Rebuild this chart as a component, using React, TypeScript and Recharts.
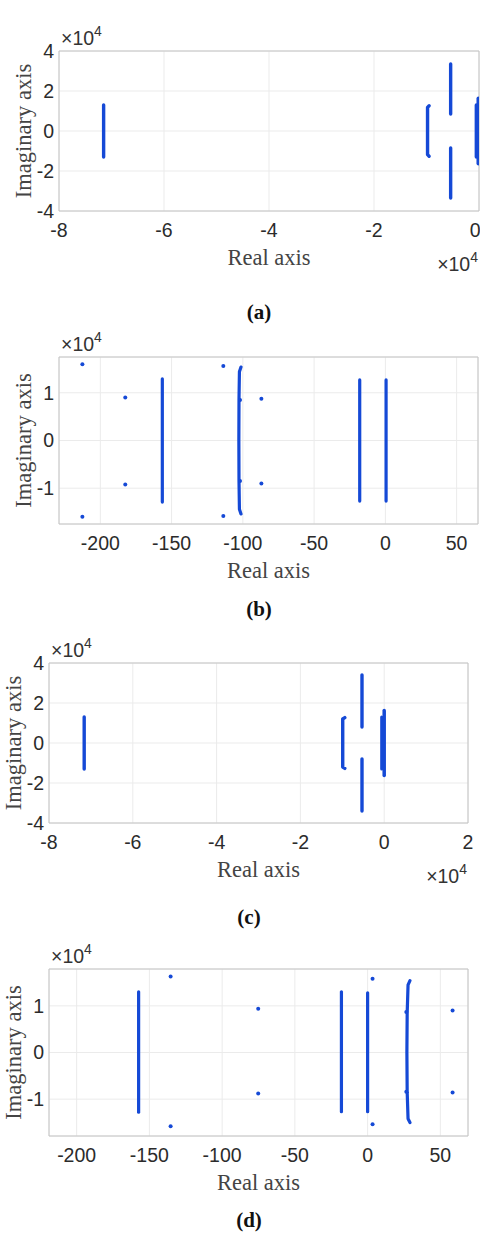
import { ScatterChart, Scatter, XAxis, YAxis, CartesianGrid, ReferenceArea } from 'recharts';

type Pt = { x: number; y: number };

// real / imaginary parts; (a),(c) x in 1e4, all y in 1e4
const aBranch1: Pt[] = [{ x: -7.15, y: 1.3 }, { x: -7.15, y: -1.3 }];
const aBranch2: Pt[] = [{ x: -0.95, y: 1.26 }, { x: -0.98, y: 1.18 }, { x: -0.98, y: -1.18 }, { x: -0.95, y: -1.26 }];
const aBranch3: Pt[] = [{ x: -0.54, y: 3.35 }, { x: -0.54, y: 0.85 }];
const aBranch4: Pt[] = [{ x: -0.54, y: -0.85 }, { x: -0.54, y: -3.35 }];
const aBranch5: Pt[] = [{ x: -0.05, y: 1.3 }, { x: -0.05, y: -1.3 }];
const aBranch6: Pt[] = [{ x: -0.01, y: 1.62 }, { x: -0.01, y: -1.62 }];

const bBranch1: Pt[] = [{ x: -156.5, y: 1.29 }, { x: -156.5, y: -1.29 }];
const bBranch2: Pt[] = [
  { x: -101.3, y: 1.54 }, { x: -102.4, y: 1.44 }, { x: -102.7, y: 0.85 }, { x: -102.8, y: 0 },
  { x: -102.7, y: -0.85 }, { x: -102.4, y: -1.44 }, { x: -101.3, y: -1.54 },
];
const bBranch3: Pt[] = [{ x: -18, y: 1.27 }, { x: -18, y: -1.27 }];
const bBranch4: Pt[] = [{ x: 0.5, y: 1.27 }, { x: 0.5, y: -1.27 }];
const bPoles: Pt[] = [
  { x: -212.6, y: 1.6 }, { x: -212.6, y: -1.6 }, { x: -182.5, y: 0.9 }, { x: -182.5, y: -0.92 },
  { x: -113.7, y: 1.56 }, { x: -113.7, y: -1.58 }, { x: -87, y: 0.875 }, { x: -87, y: -0.9 },
  { x: -102, y: 0.85 }, { x: -102, y: -0.85 },
];

const cBranch1: Pt[] = [{ x: -7.16, y: 1.3 }, { x: -7.16, y: -1.3 }];
const cBranch2: Pt[] = [{ x: -0.94, y: 1.27 }, { x: -0.99, y: 1.2 }, { x: -0.99, y: -1.2 }, { x: -0.94, y: -1.27 }];
const cBranch3: Pt[] = [{ x: -0.53, y: 3.4 }, { x: -0.53, y: 0.8 }];
const cBranch4: Pt[] = [{ x: -0.53, y: -0.8 }, { x: -0.53, y: -3.4 }];
const cBranch5: Pt[] = [{ x: -0.06, y: 1.3 }, { x: -0.06, y: -1.3 }];
const cBranch6: Pt[] = [{ x: 0.0, y: 1.62 }, { x: 0.0, y: -1.62 }];

const dBranch1: Pt[] = [{ x: -157.4, y: 1.3 }, { x: -157.4, y: -1.28 }];
const dBranch2: Pt[] = [{ x: -18, y: 1.3 }, { x: -18, y: -1.27 }];
const dBranch3: Pt[] = [{ x: 0, y: 1.28 }, { x: 0, y: -1.27 }];
const dBranch4: Pt[] = [
  { x: 29.1, y: 1.54 }, { x: 27.8, y: 1.45 }, { x: 27.2, y: 0.85 }, { x: 27.0, y: 0 },
  { x: 27.2, y: -0.85 }, { x: 27.8, y: -1.42 }, { x: 29.1, y: -1.5 },
];
const dPoles: Pt[] = [
  { x: -135.4, y: 1.63 }, { x: -135.4, y: -1.58 }, { x: -75.2, y: 0.94 }, { x: -75.2, y: -0.88 },
  { x: 3.4, y: 1.58 }, { x: 3.4, y: -1.54 }, { x: 58.4, y: 0.9 }, { x: 58.4, y: -0.86 },
  { x: 26.6, y: 0.87 }, { x: 26.6, y: -0.84 },
];

const aXTicks = [-8, -6, -4, -2, 0];
const aYTicks = [-4, -2, 0, 2, 4];
const bXTicks = [-200, -150, -100, -50, 0, 50];
const bYTicks = [-1, 0, 1];
const cXTicks = [-8, -6, -4, -2, 0, 2];
const cYTicks = [-4, -2, 0, 2, 4];
const dXTicks = [-200, -150, -100, -50, 0, 50];
const dYTicks = [-1, 0, 1];

const captions = ['(a)', '(b)', '(c)', '(d)'];

const BLUE = '#1549d6';
const SANS = '"Liberation Sans", Arial, sans-serif';
const SERIF = '"Liberation Serif", "Times New Roman", serif';

const noMarker = () => <g />;
const poleDot = (p: any) => <circle cx={p.cx} cy={p.cy} r={2} fill={BLUE} />;

interface PanelSpec {
  caption: string;
  branches: Pt[][];
  widths: number[];
  poles?: Pt[];
  xDomain: [number, number];
  yDomain: [number, number];
  xTicks: number[];
  yTicks: number[];
  chartTop: number;
  left: number;
  right: number;
  top: number;
  bottom: number;
  captionBase: number;
  xExp: boolean;
}

const panels: PanelSpec[] = [
  {
    caption: captions[0],
    branches: [aBranch1, aBranch2, aBranch3, aBranch4, aBranch5, aBranch6],
    widths: [3.4, 3.4, 3.4, 3.4, 3.5, 4],
    xDomain: [-8, 0], yDomain: [-4, 4], xTicks: aXTicks, yTicks: aYTicks,
    chartTop: 0, left: 59, right: 479, top: 51, bottom: 211, captionBase: 319, xExp: true,
  },
  {
    caption: captions[1],
    branches: [bBranch1, bBranch2, bBranch3, bBranch4],
    widths: [3.2, 3.2, 3.2, 3.2],
    poles: bPoles,
    xDomain: [-229, 65], yDomain: [-1.75, 1.75], xTicks: bXTicks, yTicks: bYTicks,
    chartTop: 300, left: 59, right: 478, top: 357, bottom: 524, captionBase: 616, xExp: false,
  },
  {
    caption: captions[2],
    branches: [cBranch1, cBranch2, cBranch3, cBranch4, cBranch5, cBranch6],
    widths: [3.4, 3.4, 3.4, 3.4, 3, 3.5],
    xDomain: [-8, 2], yDomain: [-4, 4], xTicks: cXTicks, yTicks: cYTicks,
    chartTop: 620, left: 49, right: 468, top: 663, bottom: 823, captionBase: 924, xExp: true,
  },
  {
    caption: captions[3],
    branches: [dBranch1, dBranch2, dBranch3, dBranch4],
    widths: [3.2, 3.2, 3.2, 3.2],
    poles: dPoles,
    xDomain: [-219, 69], yDomain: [-1.79, 1.79], xTicks: dXTicks, yTicks: dYTicks,
    chartTop: 920, left: 49, right: 468, top: 969, bottom: 1136, captionBase: 1227, xExp: false,
  },
];

function Panel({ p }: { p: PanelSpec }) {
  const height = p.bottom - p.chartTop + 40;
  return (
    <div style={{ position: 'absolute', left: 0, top: p.chartTop }}>
      <ScatterChart
        width={480}
        height={height}
        margin={{ top: p.top - p.chartTop, right: 480 - p.right, bottom: 0, left: 0 }}
      >
        <CartesianGrid stroke="#ebebeb" />
        <XAxis
          type="number"
          dataKey="x"
          domain={p.xDomain}
          ticks={p.xTicks}
          allowDataOverflow
          height={40}
          axisLine={false}
          tickLine={false}
          tickSize={0}
          tickMargin={12}
          tick={{ fill: '#2b2b2b', fontSize: 19.5, fontFamily: SANS }}
        />
        <YAxis
          type="number"
          dataKey="y"
          domain={p.yDomain}
          ticks={p.yTicks}
          allowDataOverflow
          width={p.left}
          axisLine={false}
          tickLine={false}
          tickSize={0}
          tickMargin={5}
          tick={{ fill: '#2b2b2b', fontSize: 19.5, fontFamily: SANS }}
        />
        <ReferenceArea
          x1={p.xDomain[0]}
          x2={p.xDomain[1]}
          y1={p.yDomain[0]}
          y2={p.yDomain[1]}
          fill="none"
          stroke="#c4c4c4"
          strokeWidth={1}
        />
        {p.branches.map((b, i) => (
          <Scatter
            key={i}
            data={b}
            fill={BLUE}
            line={{ stroke: BLUE, strokeWidth: p.widths[i], strokeLinecap: 'round', strokeLinejoin: 'round' }}
            shape={noMarker}
            isAnimationActive={false}
          />
        ))}
        {p.poles && (
          <Scatter data={p.poles} fill={BLUE} shape={poleDot} isAnimationActive={false} />
        )}
      </ScatterChart>
    </div>
  );
}

function Texts({ p }: { p: PanelSpec }) {
  const cx = (p.left + p.right) / 2;
  const cy = (p.top + p.bottom) / 2;
  const ix = p.left - 36;
  return (
    <g>
      <text x={p.left + 2} y={p.top - 6} fontFamily={SANS} fontSize={19.5} fill="#333">
        ×10<tspan fontSize={14} dy={-9}>4</tspan>
      </text>
      {p.xExp && (
        <text x={p.right - 1} y={p.bottom + 60} fontFamily={SANS} fontSize={19.5} fill="#333" textAnchor="end">
          ×10<tspan fontSize={14} dy={-9}>4</tspan>
        </text>
      )}
      <text x={cx} y={p.bottom + 54} fontFamily={SERIF} fontSize={22.5} fill="#444" textAnchor="middle">
        Real axis
      </text>
      <text
        x={ix}
        y={cy}
        fontFamily={SERIF}
        fontSize={22.5}
        fill="#444"
        textAnchor="middle"
        dominantBaseline="central"
        transform={`rotate(-90 ${ix} ${cy})`}
      >
        Imaginary axis
      </text>
      <text x={p.left + 200} y={p.captionBase} fontFamily={SERIF} fontSize={21} fontWeight="bold" fill="#111" textAnchor="middle">
        {p.caption}
      </text>
    </g>
  );
}

export default function App() {
  return (
    <div style={{ position: 'absolute', left: 0, top: 0, width: 480, height: 1233, background: '#fff', overflow: 'hidden' }}>
      {panels.map((p) => (
        <Panel key={p.caption} p={p} />
      ))}
      <svg width={480} height={1233} style={{ position: 'absolute', left: 0, top: 0, pointerEvents: 'none' }}>
        {panels.map((p) => (
          <Texts key={p.caption} p={p} />
        ))}
      </svg>
    </div>
  );
}
